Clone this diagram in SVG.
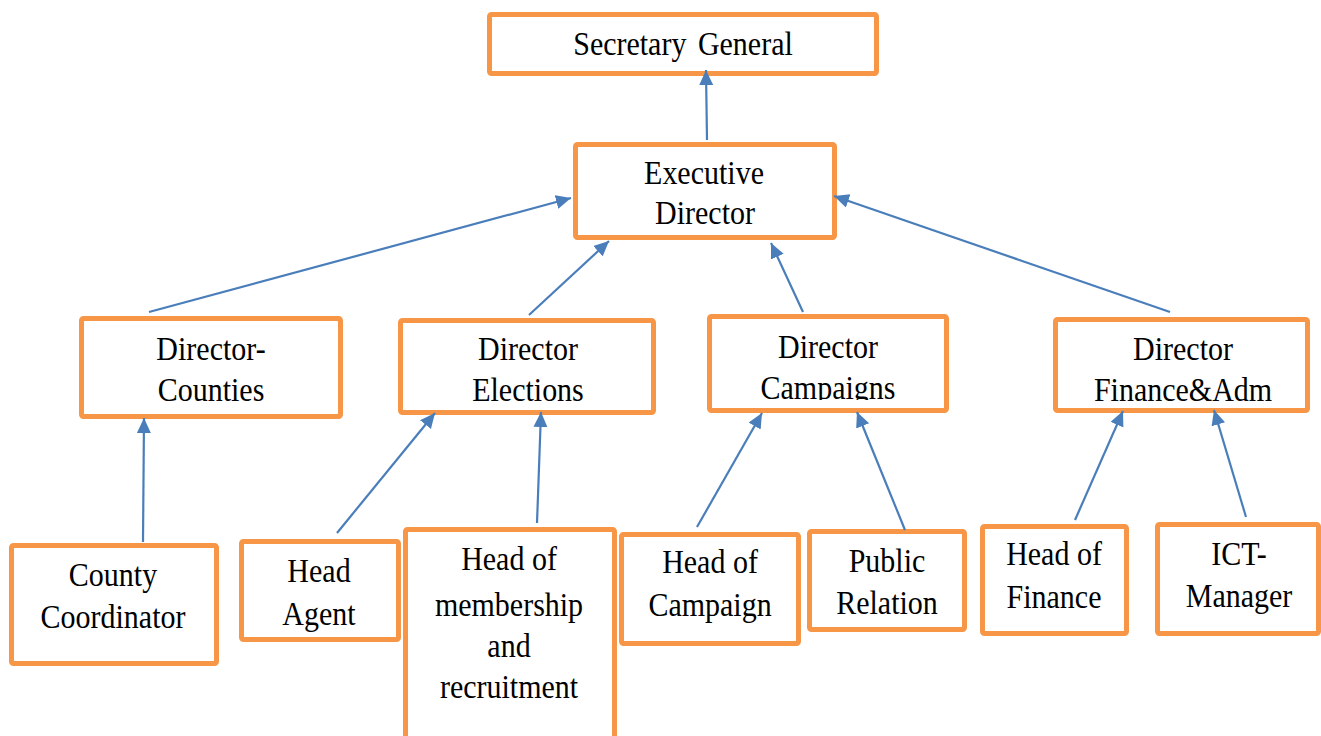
<svg xmlns="http://www.w3.org/2000/svg" width="1321" height="736" viewBox="0 0 1321 736">
<style>
.box{fill:#FFFFFF;stroke:#F79646;stroke-width:5;stroke-linejoin:round}
.t{font-family:"Liberation Serif","Times New Roman",serif;font-size:30px;fill:#000000;text-anchor:middle}
.c{stroke:#4A7EBB;stroke-width:2.2;fill:none;marker-end:url(#ah)}
</style>
<defs>
<marker id="ah" markerUnits="userSpaceOnUse" markerWidth="16" markerHeight="15" refX="15" refY="7" orient="auto">
<path d="M0,0 L15,7 L0,14 z" fill="#4A7EBB"/>
</marker>
<clipPath id="clipCa"><rect x="700" y="300" width="260" height="100"/></clipPath>
<clipPath id="clipFi"><rect x="1050" y="300" width="270" height="102"/></clipPath>
</defs>
<rect width="1321" height="736" fill="#FFFFFF"/>
<g id="secretary-general">
<rect class="box" x="489.5" y="14.5" width="387" height="59" rx="2"/>
<text class="t" transform="translate(683,54.5) scale(1,1.1)" word-spacing="4">Secretary General</text>
</g>
<g id="executive-director">
<rect class="box" x="575.5" y="144.5" width="259" height="93" rx="2"/>
<text class="t" transform="translate(704,184) scale(1,1.1)">Executive</text>
<text class="t" transform="translate(705,224) scale(1,1.1)">Director</text>
</g>
<g id="director-counties">
<rect class="box" x="81.5" y="318.5" width="259" height="98" rx="2"/>
<text class="t" transform="translate(211,360) scale(1,1.1)">Director-</text>
<text class="t" transform="translate(211,401) scale(1,1.1)">Counties</text>
</g>
<g id="director-elections">
<rect class="box" x="400.5" y="320.5" width="253" height="92" rx="2"/>
<text class="t" transform="translate(528,360) scale(1,1.1)">Director</text>
<text class="t" transform="translate(528,401) scale(1,1.1)">Elections</text>
</g>
<g id="director-campaigns">
<rect class="box" x="709.5" y="316.5" width="237" height="94" rx="2"/>
<text class="t" transform="translate(828,358) scale(1,1.1)">Director</text>
<g clip-path="url(#clipCa)"><text class="t" transform="translate(828,399) scale(1,1.1)">Campaigns</text></g>
</g>
<g id="director-finance">
<rect class="box" x="1055.5" y="319.5" width="252" height="91" rx="2"/>
<text class="t" transform="translate(1183,360) scale(1,1.1)">Director</text>
<g clip-path="url(#clipFi)"><text class="t" transform="translate(1183,401) scale(1,1.1)">Finance&amp;Adm</text></g>
</g>
<g id="county-coordinator">
<rect class="box" x="11.5" y="545.5" width="205" height="118" rx="2"/>
<text class="t" transform="translate(113,586) scale(1,1.1)">County</text>
<text class="t" transform="translate(113,628) scale(1,1.1)">Coordinator</text>
</g>
<g id="head-agent">
<rect class="box" x="241.5" y="541.5" width="157" height="98" rx="2"/>
<text class="t" transform="translate(319,582) scale(1,1.1)">Head</text>
<text class="t" transform="translate(319,625) scale(1,1.1)">Agent</text>
</g>
<g id="head-membership">
<rect class="box" x="405.5" y="529.5" width="209" height="230" rx="2"/>
<text class="t" transform="translate(509,570) scale(1,1.1)">Head of</text>
<text class="t" transform="translate(509,616) scale(1,1.1)">membership</text>
<text class="t" transform="translate(509,657) scale(1,1.1)">and</text>
<text class="t" transform="translate(509,698) scale(1,1.1)">recruitment</text>
</g>
<g id="head-campaign">
<rect class="box" x="621.5" y="534.5" width="177" height="109" rx="2"/>
<text class="t" transform="translate(710,573) scale(1,1.1)">Head of</text>
<text class="t" transform="translate(710,616) scale(1,1.1)">Campaign</text>
</g>
<g id="public-relation">
<rect class="box" x="809.5" y="531.5" width="155" height="98" rx="2"/>
<text class="t" transform="translate(887,572) scale(1,1.1)">Public</text>
<text class="t" transform="translate(887,614) scale(1,1.1)">Relation</text>
</g>
<g id="head-finance">
<rect class="box" x="982.5" y="526.5" width="144" height="107" rx="2"/>
<text class="t" transform="translate(1054,565) scale(1,1.1)">Head of</text>
<text class="t" transform="translate(1054,608) scale(1,1.1)">Finance</text>
</g>
<g id="ict-manager">
<rect class="box" x="1157.5" y="524.5" width="161" height="109" rx="2"/>
<text class="t" transform="translate(1239,565) scale(1,1.1)">ICT-</text>
<text class="t" transform="translate(1239,607) scale(1,1.1)">Manager</text>
</g>
<g id="connectors">
<line class="c" x1="707" y1="140" x2="706" y2="70"/>
<line class="c" x1="149" y1="312" x2="571" y2="198"/>
<line class="c" x1="529" y1="315" x2="609" y2="241"/>
<line class="c" x1="803" y1="312" x2="771" y2="243"/>
<line class="c" x1="1170" y1="312" x2="834" y2="196"/>
<line class="c" x1="143" y1="542" x2="144" y2="418"/>
<line class="c" x1="337" y1="533" x2="435" y2="413"/>
<line class="c" x1="537" y1="523" x2="541" y2="412"/>
<line class="c" x1="697" y1="527" x2="762" y2="413"/>
<line class="c" x1="905" y1="530" x2="857" y2="412"/>
<line class="c" x1="1075" y1="520" x2="1123" y2="411"/>
<line class="c" x1="1246" y1="517" x2="1214" y2="410"/>
</g>
</svg>
